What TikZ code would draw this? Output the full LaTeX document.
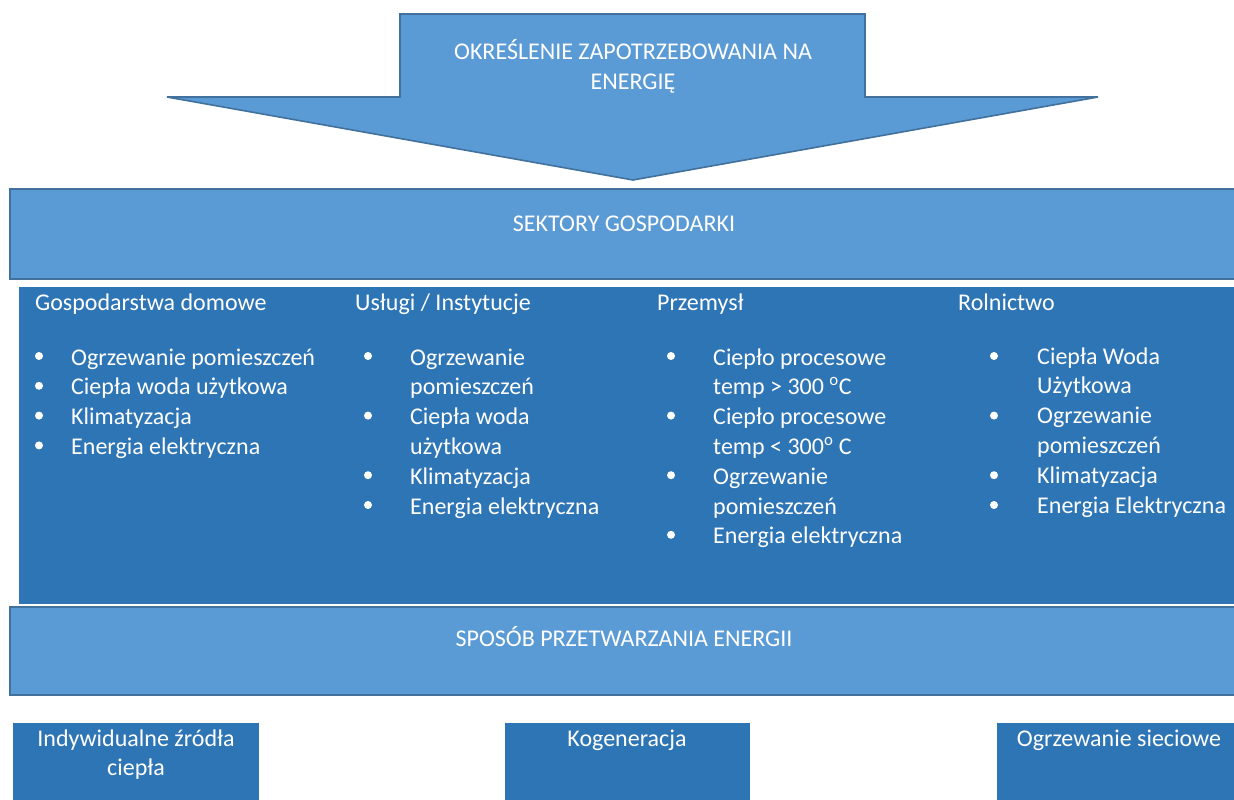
\documentclass[tikz,border=0pt]{standalone}
\usepackage{fontspec}
\setmainfont{Carlito}
\usepackage{xcolor}
\usetikzlibrary{positioning}
\definecolor{lightblue}{HTML}{5B9BD5}
\definecolor{darkblue}{HTML}{2E75B6}
\definecolor{edgeblue}{HTML}{41719C}
\newcommand{\rowskip}{29.8}

\begin{document}
\begin{tikzpicture}[x=1pt,y=-1pt,
	lightbox/.style={fill=lightblue,draw=edgeblue,line width=1.6pt},
	darkbox/.style={fill=darkblue},
	txt/.style={text=white,inner sep=0pt,font=\fontsize{24}{29.8}\selectfont},
	dot/.style={circle,fill=white,inner sep=0pt,minimum size=8pt}]
		\useasboundingbox (0,0) rectangle (1234,800);
		% arrow (multi-line nodes sit on the baseline of their last line)
		\draw[lightbox] (400,14) -- (865,14) -- (865,97) -- (1098,97) -- (633,180) -- (167,97) -- (400,97) -- cycle;
		\node[txt,align=center,anchor=base] (demand) at (633,{59.3+\rowskip}) {OKREŚLENIE ZAPOTRZEBOWANIA NA\\ENERGIĘ};
		% sectors
		\draw[lightbox] (10,189) rectangle (1250,279);
		\node[txt,anchor=base] (sectors) at (624,231.5) {SEKTORY GOSPODARKI};
		\fill[darkbox] (19,287) rectangle (1250,604);
		\node[txt,anchor=base west] (home) at (35,310) {Gospodarstwa domowe};
		\node[txt,anchor=base west] (services) at (355,310) {Usługi / Instytucje};
		\node[txt,anchor=base west] (industry) at (657,310) {Przemysł};
		\node[txt,anchor=base west] (farming) at (958,310) {Rolnictwo};
		\node[txt,align=left,anchor=base west] (homelist) at (71,{365+3*\rowskip}) {Ogrzewanie pomieszczeń\\Ciepła woda użytkowa\\Klimatyzacja\\Energia elektryczna};
		\node[txt,align=left,anchor=base west] (serviceslist) at (410,{365+5*\rowskip}) {Ogrzewanie\\pomieszczeń\\Ciepła woda\\użytkowa\\Klimatyzacja\\Energia elektryczna};
		\node[txt,align=left,anchor=base west] (industrylist) at (713,{365+6*\rowskip}) {Ciepło procesowe\\temp > 300 \textsuperscript{o}C\\Ciepło procesowe\\temp < 300\textsuperscript{o} C\\Ogrzewanie\\pomieszczeń\\Energia elektryczna};
		\node[txt,align=left,anchor=base west] (farminglist) at (1037,{364+5*\rowskip}) {Ciepła Woda\\Użytkowa\\Ogrzewanie\\pomieszczeń\\Klimatyzacja\\Energia Elektryczna};
		\foreach \l in {0,1,2,3}
			\node[dot] (homedot\l) at (39,{356+\l*\rowskip}) {};
		\foreach \l in {0,2,4,5}
			\node[dot] (servicesdot\l) at (368,{356+\l*\rowskip}) {};
		\foreach \l in {0,2,4,6}
			\node[dot] (industrydot\l) at (671,{356+\l*\rowskip}) {};
		\foreach \l in {0,2,4,5}
			\node[dot] (farmingdot\l) at (994,{356+\l*\rowskip}) {};
		% conversion
		\draw[lightbox] (10,607) rectangle (1250,695);
		\node[txt,anchor=base] (conversion) at (624,646.5) {SPOSÓB PRZETWARZANIA ENERGII};
		\fill[darkbox] (13,723) rectangle (259,810);
		\fill[darkbox] (505,723) rectangle (750,810);
		\fill[darkbox] (997,723) rectangle (1250,810);
		\node[txt,align=center,anchor=base] (individual) at (136,{746+\rowskip}) {Indywidualne źródła\\ciepła};
		\node[txt,anchor=base] (cogeneration) at (627,746) {Kogeneracja};
		\node[txt,anchor=base] (district) at (1119,746) {Ogrzewanie sieciowe};
	\end{tikzpicture}
\end{document}
